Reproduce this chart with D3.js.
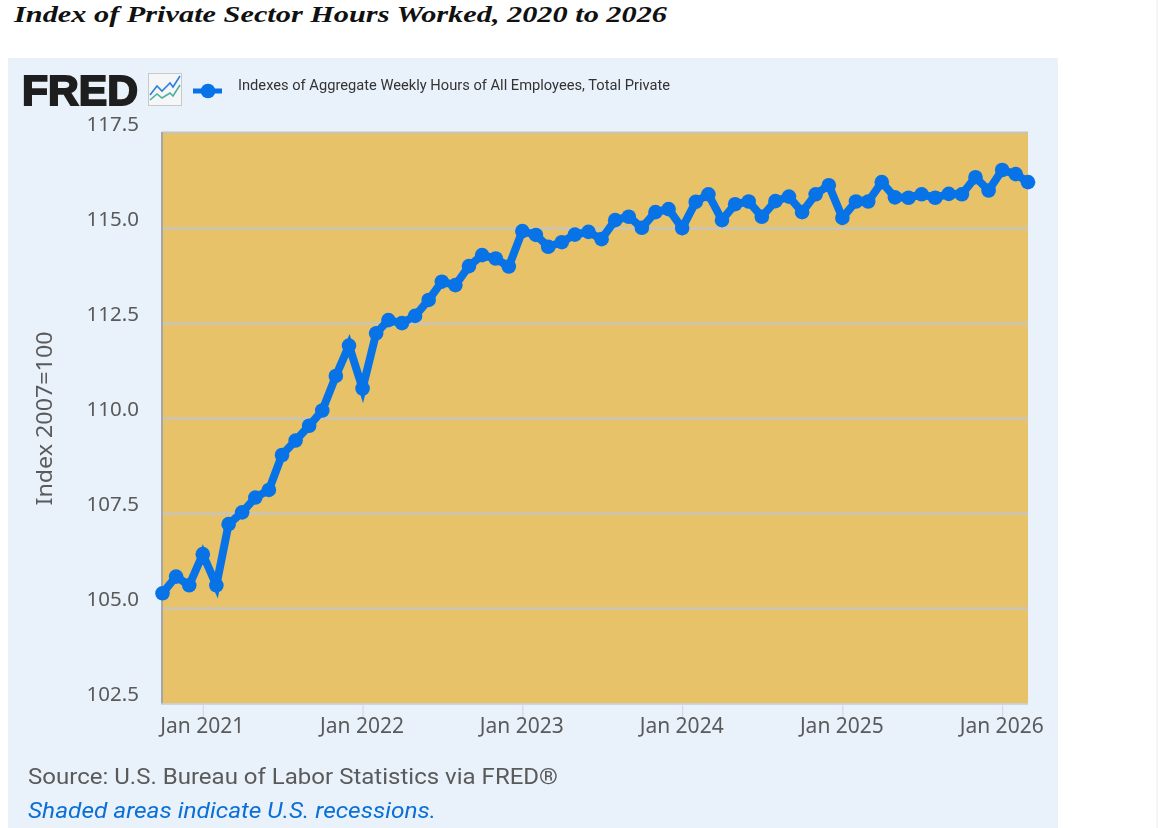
<!DOCTYPE html>
<html><head><meta charset="utf-8">
<script src="https://cdnjs.cloudflare.com/ajax/libs/d3/7.8.5/d3.min.js"></script>
<style>html,body{margin:0;padding:0;background:#fff;overflow:hidden}svg{display:block}</style>
</head><body><svg id="c" width="1158" height="828"></svg>
<script>
const startMonth = "2020-10";
const values = [105.40,105.84,105.61,106.43,105.61,107.22,107.53,107.92,108.12,109.04,109.42,109.81,110.21,111.12,111.92,110.79,112.24,112.59,112.51,112.70,113.12,113.60,113.51,114.01,114.30,114.21,114.00,114.93,114.83,114.52,114.64,114.84,114.91,114.72,115.22,115.31,115.02,115.43,115.51,115.01,115.70,115.90,115.22,115.64,115.71,115.31,115.72,115.84,115.43,115.90,116.14,115.28,115.71,115.71,116.22,115.82,115.81,115.90,115.81,115.91,115.90,116.35,116.00,116.54,116.43,116.22];
const yTicks = [102.5,105,107.5,110,112.5,115,117.5];
const xTickYears = [2021,2022,2023,2024,2025,2026];
const titleText = "Index of Private Sector Hours Worked, 2020 to 2026";
const legendText = "Indexes of Aggregate Weekly Hours of All Employees, Total Private";
const yLabel = "Index 2007=100";
const sourceText = "Source: U.S. Bureau of Labor Statistics via FRED®";
const noteText = "Shaded areas indicate U.S. recessions.";

const svg = d3.select("#c");
const dates = values.map((_, i) => new Date(Date.UTC(2020, 9 + i, 1)));
const x = d3.scaleUtc().domain([dates[0], dates[dates.length - 1]]).range([162.5, 1028]);
const y = d3.scaleLinear().domain([102.5, 117.5]).range([703.5, 133.5]);
const sans = "Roboto, sans-serif";
const noto = "'Noto Sans', 'Open Sans', sans-serif";

svg.append("rect").attr("x",1156.5).attr("y",0).attr("width",1).attr("height",828).attr("fill","#ececec");
svg.append("text").attr("x",14).attr("y",22).attr("font-family","'Liberation Serif',serif").attr("font-weight",700).attr("font-style","italic").attr("font-size",24).attr("textLength",653).attr("lengthAdjust","spacingAndGlyphs").attr("fill","#111").text(titleText);

const root = svg.append("g").style("filter","blur(0.45px)");
root.append("rect").attr("x",8).attr("y",58).attr("width",1050).attr("height",770).attr("fill","#e9f1fb");

// plot
root.append("rect").attr("x",162).attr("y",132.5).attr("width",866).attr("height",571).attr("fill","#e8c269");
root.append("line").attr("x1",162).attr("x2",1028).attr("y1",132.5).attr("y2",132.5).attr("stroke","#c4c4bc").attr("stroke-width",2);
root.append("g").selectAll("line").data(yTicks.slice(1,-1)).join("line")
  .attr("x1",162).attr("x2",1028).attr("y1",d=>y(d)).attr("y2",d=>y(d)).attr("stroke","#c9c5b8").attr("stroke-width",2.5);
root.append("line").attr("x1",162).attr("x2",162).attr("y1",132).attr("y2",704).attr("stroke","#a6a6a6").attr("stroke-width",2);
root.append("line").attr("x1",161).attr("x2",1028).attr("y1",704).attr("y2",704).attr("stroke","#c3cbd6").attr("stroke-width",1.5);

const yAxis = root.append("g").attr("transform","translate(162,0)").call(d3.axisLeft(y).tickValues(yTicks).tickFormat(d3.format(".1f")).tickSize(0).tickPadding(23));
yAxis.select(".domain").remove();
yAxis.selectAll("text").attr("font-family",noto).attr("font-size",20.5).attr("fill","#5a5a5a").attr("dy",0).attr("y",-3.5);

const xAxis = root.append("g").attr("transform","translate(0,704)").call(d3.axisBottom(x).tickValues(xTickYears.map(v=>new Date(Date.UTC(v,0,1)))).tickFormat(d3.utcFormat("%b %Y")).tickSize(14).tickPadding(0));
xAxis.select(".domain").remove();
xAxis.selectAll("line").attr("stroke","#ccd6eb");
xAxis.selectAll("text").attr("font-family",noto).attr("font-size",21).attr("fill","#5a5a5a").attr("y",29).attr("dy",0).attr("dx",-1);

root.append("text").attr("transform","translate(52,418.5) rotate(-90)").attr("text-anchor","middle").attr("font-family",noto).attr("font-size",21).attr("textLength",174).attr("lengthAdjust","spacingAndGlyphs").attr("fill","#5a5a5a").text(yLabel);

// series
const line = d3.line().x((d,i)=>x(dates[i])).y(d=>y(d));
root.append("path").datum(values).attr("d",line).attr("fill","none").attr("stroke","#0873e6").attr("stroke-width",8).attr("stroke-linejoin","miter").attr("stroke-miterlimit",6);
root.append("g").selectAll("circle").data(values).join("circle").attr("cx",(d,i)=>x(dates[i])).attr("cy",d=>y(d)).attr("r",7.3).attr("fill","#0873e6");

// logo
root.append("text").attr("x",22).attr("y",105).attr("font-family","'Liberation Sans',Arimo,sans-serif").attr("font-weight",700).attr("font-size",43).attr("textLength",116).attr("lengthAdjust","spacingAndGlyphs").attr("fill","#1e1e1e").attr("stroke","#1e1e1e").attr("stroke-width",2).text("FRED");
const icon = root.append("g").attr("transform","translate(148,73)");
icon.append("rect").attr("x",0.5).attr("y",0.5).attr("width",33).attr("height",32).attr("fill","#f4f6f8").attr("stroke","#c9c9c9");
icon.append("path").attr("d","M2 22L9 13L14 18L22 10L25 14L32 3").attr("fill","none").attr("stroke","#2f7fe0").attr("stroke-width",1.6);
icon.append("path").attr("d","M2 27L9 21L14 25L22 20L25 23L32 12").attr("fill","none").attr("stroke","#4cb09a").attr("stroke-width",1.6);

// legend
root.append("line").attr("x1",193).attr("x2",222).attr("y1",91).attr("y2",91).attr("stroke","#0873e6").attr("stroke-width",5);
root.append("circle").attr("cx",208).attr("cy",91).attr("r",7.3).attr("fill","#0873e6");
root.append("text").attr("x",238).attr("y",89.5).attr("font-family",sans).attr("font-size",15).attr("textLength",432).attr("lengthAdjust","spacingAndGlyphs").attr("fill","#333").text(legendText);

// footer
root.append("text").attr("x",28).attr("y",784).attr("font-family",sans).attr("font-size",22).attr("textLength",530).attr("lengthAdjust","spacingAndGlyphs").attr("fill","#5a5a5a").text(sourceText);
root.append("text").attr("x",28).attr("y",818).attr("font-family",sans).attr("font-style","italic").attr("font-size",22).attr("textLength",408).attr("lengthAdjust","spacingAndGlyphs").attr("fill","#0a6fd6").text(noteText);
</script></body></html>
